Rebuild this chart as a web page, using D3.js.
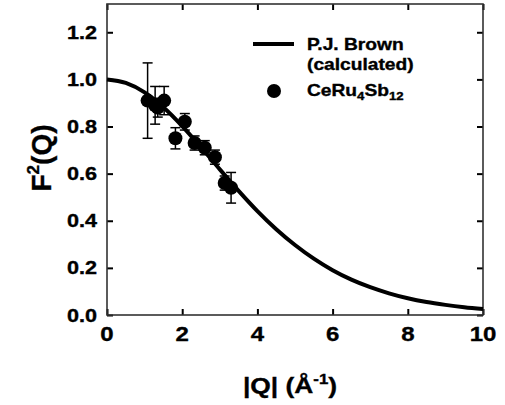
<!DOCTYPE html>
<html><head><meta charset="utf-8">
<script src="https://cdn.jsdelivr.net/npm/d3@7/dist/d3.min.js"></script>
<style>body{margin:0;background:#fff}svg{display:block}text{font-family:"Liberation Sans",Arial,sans-serif;font-weight:bold;fill:#000;stroke:#000;stroke-width:0.35px}</style>
</head><body><svg id="c" width="505" height="405"></svg>
<script>
// calculated form factor (P.J. Brown)
const curveQ  = [0, 0.5, 1, 1.5, 2, 2.5, 3, 3.5, 4, 4.5, 5, 5.5, 6, 6.5, 7, 7.5, 8, 8.5, 9, 9.5, 10];
const curveF2 = [1.0, 0.985, 0.945, 0.882, 0.802, 0.712, 0.618, 0.527, 0.441, 0.364, 0.297, 0.239, 0.190, 0.150, 0.118, 0.092, 0.071, 0.055, 0.043, 0.033, 0.025];
// measured CeRu4Sb12 points
const dataQ   = [1.08, 1.28, 1.35, 1.52, 1.82, 2.07, 2.33, 2.60, 2.87, 3.13, 3.30];
const dataF2  = [0.91, 0.89, 0.88, 0.91, 0.75, 0.82, 0.73, 0.71, 0.67, 0.56, 0.54];
const dataErr = [0.16, 0.08, 0.04, 0.06, 0.045, 0.035, 0.03, 0.03, 0.03, 0.03, 0.065];
const xTicks = [0, 2, 4, 6, 8, 10];
const yTicks = [0, 0.2, 0.4, 0.6, 0.8, 1.0, 1.2];

const SX = 1.2; // horizontal stretch of the original lettering
const L = 107, R = 483, T = 4, B = 315;
const svg = d3.select("#c");
const x = d3.scaleLinear().domain([0, 10]).range([L, R]);
const y = d3.scaleLinear().domain([0, 1.32]).range([B, T]);

function txt(px, py, size, anchor, build) {
  const t = svg.append("text")
    .attr("transform", `translate(${px},${py}) scale(${SX},1)`)
    .attr("font-size", size).attr("text-anchor", anchor);
  build(t);
  return t;
}

// axes with inward ticks on all four sides
svg.append("g").attr("transform", `translate(0,${B})`)
  .call(d3.axisBottom(x).tickValues(xTicks).tickSize(-6).tickFormat(""));
svg.append("g").attr("transform", `translate(0,${T})`)
  .call(d3.axisTop(x).tickValues(xTicks).tickSize(-6).tickFormat(""));
svg.append("g").attr("transform", `translate(${L},0)`)
  .call(d3.axisLeft(y).tickValues(yTicks).tickSize(-6).tickFormat(""));
svg.append("g").attr("transform", `translate(${R},0)`)
  .call(d3.axisRight(y).tickValues(yTicks).tickSize(-6).tickFormat(""));
svg.selectAll(".domain").remove();
svg.selectAll(".tick line").attr("stroke", "#000").attr("stroke-width", 2);
svg.append("rect").attr("x", L).attr("y", T).attr("width", R - L).attr("height", B - T)
  .attr("fill", "none").attr("stroke", "#333").attr("stroke-width", 1.6);

// tick labels
xTicks.forEach(v => txt(x(v), 341, 20, "middle", t => t.text(d3.format("d")(v))));
yTicks.forEach(v => txt(97, y(v) + 6.5, 18, "end", t => t.text(d3.format(".1f")(v))));

// axis titles
txt(290, 393, 22, "middle", t => {
  t.append("tspan").text("|Q| (Å");
  t.append("tspan").attr("font-size", 14).attr("dy", -9).text("-1");
  t.append("tspan").attr("dy", 9).text(")");
});
svg.append("text").attr("transform", `translate(51,158) rotate(-90)`)
  .attr("font-size", 28).attr("text-anchor", "middle")
  .call(t => {
    t.append("tspan").text("F");
    t.append("tspan").attr("font-size", 17).attr("dy", -12).text("2");
    t.append("tspan").attr("dy", 12).text("(Q)");
  });

// calculated curve
const line = d3.line().x((d, i) => x(curveQ[i])).y(d => y(d)).curve(d3.curveMonotoneX);
svg.append("path").attr("d", line(curveF2)).attr("fill", "none")
  .attr("stroke", "#000").attr("stroke-width", 4);

// error bars
const eb = svg.append("g").attr("stroke", "#000").attr("stroke-width", 1.5);
dataQ.forEach((q, i) => {
  const cx = x(q), y1 = y(dataF2[i] - dataErr[i]), y2 = y(dataF2[i] + dataErr[i]);
  eb.append("line").attr("x1", cx).attr("x2", cx).attr("y1", y1).attr("y2", y2);
  [y1, y2].forEach(yy => eb.append("line").attr("x1", cx - 5).attr("x2", cx + 5).attr("y1", yy).attr("y2", yy));
});
// points
svg.append("g").selectAll("circle").data(dataF2).join("circle")
  .attr("cx", (d, i) => x(dataQ[i])).attr("cy", d => y(d)).attr("r", 7).attr("fill", "#000");

// legend
svg.append("line").attr("x1", 253).attr("x2", 294).attr("y1", 44).attr("y2", 44)
  .attr("stroke", "#000").attr("stroke-width", 4);
txt(307, 50, 16, "start", t => t.text("P.J. Brown"));
txt(307, 70, 16, "start", t => t.text("(calculated)"));
svg.append("circle").attr("cx", 274).attr("cy", 91).attr("r", 7).attr("fill", "#000");
txt(307, 96, 16, "start", t => {
  t.append("tspan").text("CeRu");
  t.append("tspan").attr("font-size", 11).attr("dy", 4).text("4");
  t.append("tspan").attr("dy", -4).text("Sb");
  t.append("tspan").attr("font-size", 11).attr("dy", 4).text("12");
});
</script></body></html>
